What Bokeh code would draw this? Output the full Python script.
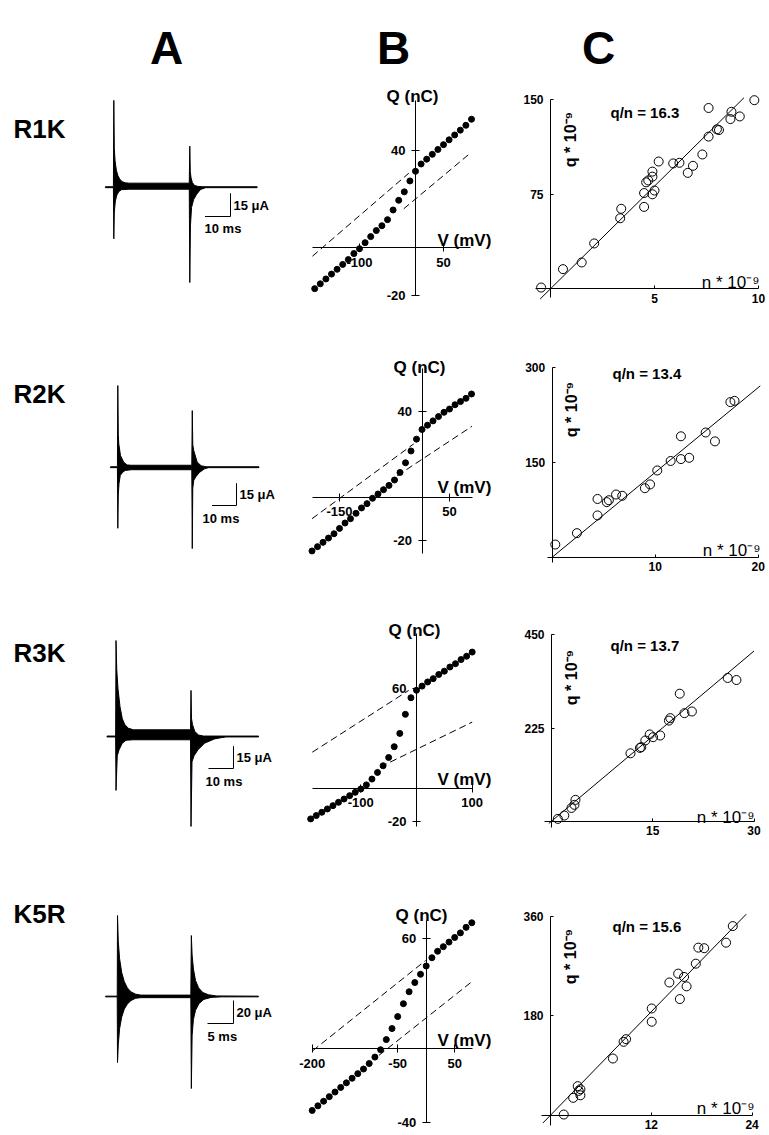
import math
from bokeh.plotting import figure
from bokeh.models import Range1d, LinearAxis, FixedTicker, Label, CustomJSTickFormatter
from bokeh.layouts import column, row
from bokeh.embed import file_html
from bokeh.resources import INLINE

FONT = "Liberation Sans"

# ---------------- data ----------------
COLUMN_TITLES = ["A", "B", "C"]
ROW_NAMES = ["R1K", "R2K", "R3K", "K5R"]

# A: current traces (family envelope), time in ms, current in uA
A1_T_UP = [-3.3, -0.15, 0, 0.2, 0.5, 1.0, 1.6, 2.4, 3.4, 4.6, 6.0, 29.6, 29.8, 30.0, 30.3, 30.8, 31.6, 33, 35, 56.2]
A1_I_UP = [0.3, 0.3, 56, 25, 17, 11, 7.5, 5, 3.5, 2.8, 2.6, 2.6, 26.5, 10, 6, 3, 1.2, 0.5, 0.3, 0.3]
A1_T_LO = [56.2, 36, 34, 32.5, 31.3, 30.5, 30.05, 29.8, 29.6, 6, 3, 2, 1.2, 0.6, 0.2, 0, -0.15, -3.3]
A1_I_LO = [-0.3, -0.3, -1.5, -4.5, -8, -13, -25, -61.5, -1.3, -1.3, -1.6, -2.8, -5, -9, -16, -33.3, -0.3, -0.3]

A2_T_UP = [-3, -0.15, 0, 0.2, 0.4, 1.1, 2.4, 3.8, 5.5, 30.2, 30.4, 30.6, 31.0, 32.4, 34, 36, 57.6]
A2_I_UP = [0.3, 0.3, 54.8, 22, 15.7, 7.8, 3.4, 1.5, 1.3, 1.3, 38, 15, 11.2, 3.4, 1, 0.3, 0.3]
A2_T_LO = [57.6, 37, 35.4, 33.4, 31.8, 31.0, 30.6, 30.4, 30.2, 5.5, 3.0, 2.0, 1.0, 0.5, 0.2, 0, -0.15, -3]
A2_I_LO = [-0.3, -0.3, -1.1, -3.4, -6.5, -8.9, -14, -54.6, -1.7, -1.7, -2.2, -3.4, -5.5, -11, -18, -41, -0.3, -0.3]

A3_T_UP = [-3.6, -0.15, 0, 0.3, 0.8, 1.6, 2.5, 3.5, 5, 7, 29.8, 30, 30.2, 30.6, 31.5, 33, 35, 57]
A3_I_UP = [0.3, 0.3, 64.4, 45, 32, 20, 12, 8, 5.5, 4.5, 4.5, 30.9, 12, 8, 3.4, 1, 0.3, 0.3]
A3_T_LO = [57, 44, 42, 39.4, 35.4, 32.8, 31.2, 30.4, 30, 29.8, 7, 4, 2.5, 1.2, 0.5, 0, -0.15, -3.6]
A3_I_LO = [-0.3, -0.3, -0.8, -1.6, -4.5, -8.9, -13, -17, -60.4, -2.2, -2.2, -2.5, -4.5, -9, -13, -36.2, -0.3, -0.3]

A4_T_UP = [-2.3, -0.05, 0, 0.15, 0.4, 0.8, 1.3, 1.9, 2.6, 3.5, 4.5, 14.1, 14.2, 14.35, 14.6, 15.0, 15.6, 16.4, 17.5, 19, 27.1]
A4_I_UP = [0.3, 0.3, 70.4, 48, 33, 21, 13, 7.5, 4, 2, 1.2, 1.2, 53, 36, 24, 14, 7.5, 3.5, 1.5, 0.5, 0.3]
A4_T_LO = [27.1, 20, 18, 16.6, 15.7, 15.0, 14.6, 14.35, 14.2, 14.1, 4.5, 3.5, 2.6, 1.9, 1.3, 0.8, 0.4, 0.15, 0, -0.05, -2.3]
A4_I_LO = [-0.3, -0.3, -0.8, -2.5, -6, -12, -20, -34, -80, -1.0, -1.0, -1.5, -3.5, -6.5, -11, -18, -28, -42, -57.4, -0.3, -0.3]

SCALE_T = [10, 10, 10, 5]
SCALE_I = [15, 15, 15, 20]
SCALE_T_LABELS = ["10 ms", "10 ms", "10 ms", "5 ms"]
SCALE_I_LABELS = ["15 \u03bcA", "15 \u03bcA", "15 \u03bcA", "20 \u03bcA"]

# B: Q-V curves, V in mV, Q in nC
B1_V = [-180, -170, -160, -150, -140, -130, -120, -110, -100, -90, -80, -70, -60, -50, -40, -30, -20, -10, 0, 10, 20, 30, 40, 50, 60, 70, 80, 90, 100]
B1_Q = [-17, -15, -13, -11, -9, -7, -5, -2.5, -0.5, 2, 4.5, 7, 9, 11.5, 15.5, 19.5, 23, 27.5, 31.5, 34.5, 36.5, 38.5, 40.5, 42.5, 44.5, 46.5, 48.5, 50.5, 53]
B1_UP_V = [-184, -12]
B1_UP_Q = [-3.6, 30.7]
B1_LO_V = [-21, 98]
B1_LO_Q = [16, 39]

B2_V = [-200, -190, -180, -170, -160, -150, -140, -130, -120, -110, -100, -90, -80, -70, -60, -50, -40, -30, -20, -10, 0, 10, 20, 30, 40, 50, 60, 70, 80, 90]
B2_Q = [-25, -23, -21, -19, -17, -14.5, -12, -10, -7.5, -5, -3, -0.5, 1.5, 3.5, 5.5, 8, 11.5, 16, 21.5, 27, 31.5, 33.5, 35.5, 37.5, 39.5, 41, 43, 44.5, 46, 48]
B2_UP_V = [-200, -15]
B2_UP_Q = [-10, 24.8]
B2_LO_V = [-45, 91]
B2_LO_Q = [10, 33]

B3_V = [-190, -180, -170, -160, -150, -140, -130, -120, -110, -100, -90, -80, -70, -60, -50, -40, -30, -20, -10, 0, 10, 20, 30, 40, 50, 60, 70, 80, 90, 100]
B3_Q = [-18.5, -16.5, -14.5, -12.5, -10.5, -8.5, -6.5, -4.5, -2.5, -0.5, 2, 5.5, 9.5, 13.5, 18.5, 25, 33, 44.5, 54.5, 59, 61.5, 64, 66, 68.5, 70.5, 73, 75, 77.5, 79.5, 82]
B3_UP_V = [-187, -14]
B3_UP_Q = [21.7, 58.9]
B3_LO_V = [-65, 100]
B3_LO_Q = [12.8, 39.8]

B4_V = [-200, -190, -180, -170, -160, -150, -140, -130, -120, -110, -100, -90, -80, -70, -60, -50, -40, -30, -20, -10, 0, 10, 20, 30, 40, 50, 60, 70, 80]
B4_Q = [-33.5, -31, -28.5, -26, -23.5, -21, -18.5, -16, -13.5, -11, -8, -4.5, -0.5, 5, 11, 17.5, 24.5, 31, 36, 40.5, 45, 49.5, 53, 55.5, 58, 60.5, 63, 66, 68.5]
B4_UP_V = [-199, -1]
B4_UP_Q = [-1, 48]
B4_LO_V = [-83, 81]
B4_LO_Q = [-3.6, 36.7]

B_XTICKS = [[-100, 50], [-150, 50], [-100, 100], [-200, -50, 50]]
B_YTICKS = [[-20, 40], [-20, 40], [-20, 60], [-40, 60]]

# C: q vs n (x 1e-9)
C1_N = [-0.45, 0.6, 1.5, 2.1, 3.35, 3.4, 4.5, 4.5, 4.6, 4.7, 4.9, 4.9, 4.9, 5.0, 5.2, 5.9, 6.2, 6.6, 6.85, 7.3, 7.6, 7.6, 8.0, 8.1, 8.65, 8.7, 9.1, 9.8]
C1_Q = [1, 15.6, 20.9, 36, 56, 63.5, 65, 76, 84.5, 86, 93, 89, 75, 78, 101, 99.5, 100, 92, 97.6, 106.6, 120.8, 143.5, 126.6, 126, 134.7, 140.5, 136.8, 149.7]
C2_N = [0.3, 2.4, 4.4, 4.4, 5.3, 5.5, 6.2, 6.8, 9.0, 9.5, 10.2, 11.5, 12.5, 12.5, 13.3, 14.9, 15.8, 17.3, 17.7]
C2_Q = [20, 38, 66, 92, 87, 90, 99, 97, 109, 115, 137, 152, 191, 155, 157, 197, 183, 245, 247]
C3_N = [0.94, 1.9, 2.96, 3.4, 3.55, 11.7, 13.1, 13.3, 13.9, 14.55, 15.05, 16.1, 17.4, 17.6, 19.0, 19.7, 20.8, 26.1, 27.4]
C3_Q = [5.6, 13.7, 32, 39.5, 51.5, 164, 177, 179, 195, 209.5, 203, 207, 243, 249, 308, 261, 265, 346, 341]
C4_N = [1.58, 2.7, 3.24, 3.36, 3.56, 3.56, 7.43, 8.7, 9.0, 12.05, 12.05, 14.15, 15.2, 15.4, 15.9, 16.2, 17.3, 17.6, 18.3, 20.9, 21.7]
C4_Q = [1.2, 31.4, 52.5, 44, 47, 36, 102.5, 132.7, 137.5, 169, 193, 240, 256, 210, 250, 233, 274, 303, 302, 312, 342]
C_SLOPES = [16.3, 13.4, 13.7, 15.6]
C_FIT_N = [[-0.5, 9.3], [0, 20.2], [-0.4, 30], [-0.9, 23.3]]
C_XTICKS = [[5, 10], [10, 20], [15, 30], [12, 24]]
C_YTICKS = [[75, 150], [150, 300], [225, 450], [180, 360]]

# ---------------- layout (page pixel geometry; the page has no margin) ----------------
COLS = {"A": (0, 290), "B": (290, 210), "C": (500, 267)}
ROWS = [(0, 330), (330, 260), (590, 260), (850, 283)]
TITLE_POS = {"A": (166, 47), "B": (393, 47), "C": (598, 47)}

A_CFG = [
    dict(ox=113.3, oy=186.7, sx=2.55, sy=1.55, name=(13, 128), corner=(230, 216), ilab=(233, 205), tlab=(204, 228)),
    dict(ox=117.3, oy=466.7, sx=2.45, sy=1.49, name=(13, 393), corner=(236, 505), ilab=(239, 494), tlab=(202, 518)),
    dict(ox=115.5, oy=736.0, sx=2.50, sy=1.49, name=(13, 652), corner=(233, 768), ilab=(236, 757), tlab=(205, 781)),
    dict(ox=117.0, oy=996.0, sx=5.20, sy=1.15, name=(13, 913), corner=(233, 1023), ilab=(236, 1012), tlab=(207, 1036)),
]
B_CFG = [
    dict(ox=415.0, oy=247.0, sx=0.56, sy=2.42, xb=(-184, 98), yb=(-20, 60.7), qlab=(412, 96), vlab=(437, 240)),
    dict(ox=421.5, oy=496.7, sx=0.55, sy=2.15, xb=(-200, 91), yb=(-26, 59.7), qlab=(419, 367), vlab=(437, 487)),
    dict(ox=416.0, oy=787.7, sx=0.557, sy=1.66, xb=(-187, 100), yb=(-23, 93), qlab=(414, 630), vlab=(437, 779)),
    dict(ox=425.7, oy=1048.3, sx=0.57, sy=1.84, xb=(-200, 81), yb=(-40, 69.7), qlab=(421, 915), vlab=(437, 1040)),
]
C_CFG = [
    dict(ox=550.0, oy=288.3, sx=20.8, sy=1.26, xb=(-0.7, 10), yb=(-7, 150), qn=(610, 112), ql=(570, 139), nl=(759, 282)),
    dict(ox=551.7, oy=556.7, sx=10.3, sy=0.633, xb=(-0.5, 20), yb=(-8, 300), qn=(612, 373), ql=(571, 409), nl=(760, 550)),
    dict(ox=551.0, oy=820.7, sx=6.75, sy=0.414, xb=(-1, 30), yb=(-15, 450), qn=(610, 645), ql=(571, 677), nl=(754, 817)),
    dict(ox=550.0, oy=1114.7, sx=8.4, sy=0.553, xb=(-1.1, 24), yb=(-18, 360), qn=(612, 926), ql=(570, 956), nl=(754, 1108)),
]

TICK_FMT = CustomJSTickFormatter(code="return String(tick);")


def make_panel(col, r, ox, oy, sx, sy):
    left, w = COLS[col]
    top, h = ROWS[r]
    p = figure(width=w, height=h,
               x_range=Range1d((left - ox) / sx, (left + w - ox) / sx),
               y_range=Range1d((oy - top - h) / sy, (oy - top) / sy),
               toolbar_location=None, output_backend="svg",
               x_axis_location=None, y_axis_location=None, min_border=0)
    p.outline_line_color = None
    p.background_fill_color = "white"
    p.border_fill_color = "white"
    p.xgrid.visible = False
    p.ygrid.visible = False

    def conv(px, py):
        return (px - ox) / sx, (oy - py) / sy
    return p, conv


def text(p, conv, px, py, txt, size, align="left", baseline="middle", bold=True, angle=0.0):
    x, y = conv(px, py)
    p.add_layout(Label(x=x, y=y, text=txt, text_font=FONT, text_font_size=f"{size}px",
                       text_font_style="bold" if bold else "normal", text_color="black",
                       text_align=align, text_baseline=baseline, angle=angle))


def add_axes(p, xb, yb, xt, yt, tin, tout, size, xstand, ystand):
    common = dict(major_tick_in=tin, major_tick_out=tout, minor_tick_line_color=None,
                  axis_line_color="black", major_tick_line_color="black",
                  axis_line_width=1, major_tick_line_width=1, formatter=TICK_FMT,
                  major_label_text_font=FONT, major_label_text_font_size=f"{size}px",
                  major_label_text_font_style="bold", major_label_text_color="black")
    xa = LinearAxis(fixed_location=0, bounds=xb, ticker=FixedTicker(ticks=xt),
                    major_label_standoff=xstand, **common)
    ya = LinearAxis(fixed_location=0, bounds=yb, ticker=FixedTicker(ticks=yt),
                    major_label_standoff=ystand, **common)
    p.add_layout(xa, "below")
    p.add_layout(ya, "left")


A_DATA = [(A1_T_UP, A1_I_UP, A1_T_LO, A1_I_LO), (A2_T_UP, A2_I_UP, A2_T_LO, A2_I_LO),
          (A3_T_UP, A3_I_UP, A3_T_LO, A3_I_LO), (A4_T_UP, A4_I_UP, A4_T_LO, A4_I_LO)]
B_DATA = [(B1_V, B1_Q, B1_UP_V, B1_UP_Q, B1_LO_V, B1_LO_Q), (B2_V, B2_Q, B2_UP_V, B2_UP_Q, B2_LO_V, B2_LO_Q),
          (B3_V, B3_Q, B3_UP_V, B3_UP_Q, B3_LO_V, B3_LO_Q), (B4_V, B4_Q, B4_UP_V, B4_UP_Q, B4_LO_V, B4_LO_Q)]
C_DATA = [(C1_N, C1_Q), (C2_N, C2_Q), (C3_N, C3_Q), (C4_N, C4_Q)]

rows = []
for r in range(4):
    # ---- A ----
    ca = A_CFG[r]
    pa, conva = make_panel("A", r, ca["ox"], ca["oy"], ca["sx"], ca["sy"])
    tu, iu, tl, il = A_DATA[r]
    pa.patch(tu + tl, iu + il, fill_color="black", line_color="black", line_width=1)
    tc, ic = conva(*ca["corner"])
    pa.line([tc - SCALE_T[r], tc, tc], [ic, ic, ic + SCALE_I[r]], line_color="black", line_width=1)
    text(pa, conva, ca["name"][0], ca["name"][1], ROW_NAMES[r], 26)
    text(pa, conva, ca["ilab"][0], ca["ilab"][1], SCALE_I_LABELS[r], 13)
    text(pa, conva, ca["tlab"][0], ca["tlab"][1], SCALE_T_LABELS[r], 13)

    # ---- B ----
    cb = B_CFG[r]
    pb, convb = make_panel("B", r, cb["ox"], cb["oy"], cb["sx"], cb["sy"])
    v, q, uv, uq, lv, lq = B_DATA[r]
    add_axes(pb, cb["xb"], cb["yb"], B_XTICKS[r], B_YTICKS[r], 4, 4, 13, 6, 6)
    pb.line(uv, uq, line_color="black", line_width=1, line_dash="7 4")
    pb.line(lv, lq, line_color="black", line_width=1, line_dash="7 4")
    pb.scatter(v, q, marker="circle", size=6, fill_color="black", line_color="black")
    text(pb, convb, cb["qlab"][0], cb["qlab"][1], "Q (nC)", 17, align="center", baseline="alphabetic")
    text(pb, convb, cb["vlab"][0], cb["vlab"][1], "V (mV)", 17, align="left", baseline="alphabetic")

    # ---- C ----
    cc = C_CFG[r]
    pc, convc = make_panel("C", r, cc["ox"], cc["oy"], cc["sx"], cc["sy"])
    n, qq = C_DATA[r]
    add_axes(pc, cc["xb"], cc["yb"], C_XTICKS[r], C_YTICKS[r], 3, 0, 12, 5, 7)
    fit_n = C_FIT_N[r]
    pc.line(fit_n, [C_SLOPES[r] * x for x in fit_n], line_color="black", line_width=1)
    pc.scatter(n, qq, marker="circle", size=9, fill_color=None, line_color="black", line_width=1)
    text(pc, convc, cc["qn"][0], cc["qn"][1], f"q/n = {C_SLOPES[r]}", 15)
    text(pc, convc, cc["ql"][0], cc["ql"][1], "q * 10\u207b\u2079", 16, align="center", angle=math.pi / 2)
    text(pc, convc, cc["nl"][0], cc["nl"][1], "n * 10\u207b\u2079", 17, align="right", baseline="alphabetic", bold=False)

    if r == 0:
        for (p, conv), letter in zip([(pa, conva), (pb, convb), (pc, convc)], COLUMN_TITLES):
            tx, ty = TITLE_POS[letter]
            text(p, conv, tx, ty, letter, 46, align="center", baseline="alphabetic")

    rows.append(row(pa, pb, pc))

layout = column(*rows)
open("out.html", "w").write(file_html(layout, INLINE))
